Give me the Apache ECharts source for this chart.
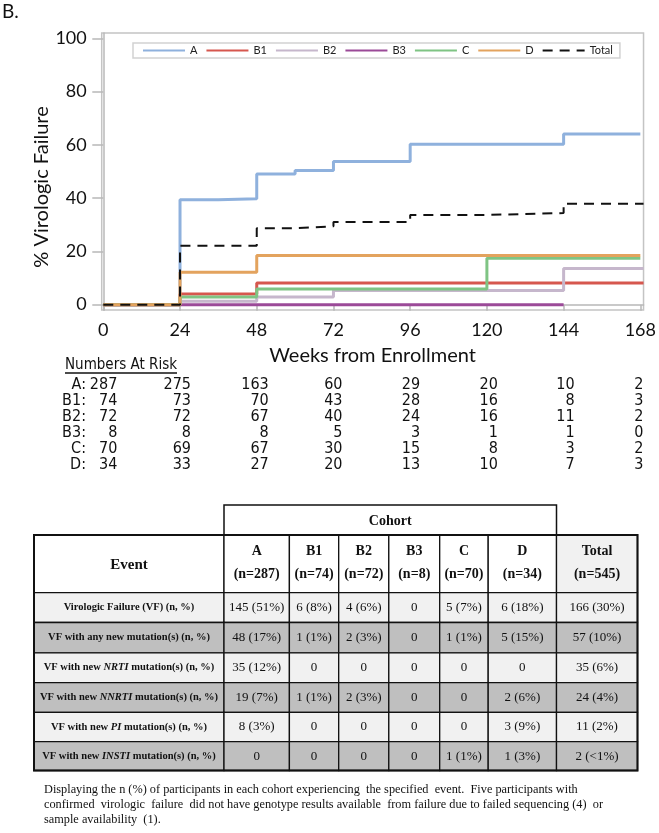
<!DOCTYPE html>
<html><head><meta charset="utf-8">
<script src="https://cdn.jsdelivr.net/npm/echarts@6/dist/echarts.min.js"></script>
<style>html,body{margin:0;padding:0;background:#fff}#c{width:659px;height:833px}</style>
</head><body><div id="c"></div>
<script>
// ---- Curve data (weeks, % virologic failure) ----
const seriesNames = ['A','B1','B2','B3','C','D','Total'];
const weeksA = [0,24,36,48,60,72,96,144,168];
const vfA    = [0,39.4,39.8,49.1,50.4,53.8,60.2,64.1,64.1];
const weeksB1 = [0,24,48,169];
const vfB1    = [0,4.0,8.1,8.1];
const weeksB2 = [0,24,48,72,144,169];
const vfB2    = [0,1.3,2.9,5.3,13.6,13.6];
const weeksB3 = [0,144];
const vfB3    = [0,0];
const weeksC = [0,24,48,120,168];
const vfC    = [0,2.9,5.9,17.4,17.4];
const weeksD = [0,24,48,168];
const vfD    = [0,12.2,18.5,18.5];
const weeksTotal = [0,24,48,60,72,96,120,144,169];
const vfTotal    = [0,22.1,28.7,29.4,31.0,33.7,34.4,37.9,37.9];
const xTicks = [0,24,48,72,96,120,144,168];
const yTicks = [0,20,40,60,80,100];

// ---- Numbers at risk ----
const riskWeeks = [0,24,48,72,96,120,144,168];
const riskLabels = ['A:','B1:','B2:','B3:','C:','D:'];
const riskA  = [287,275,163,60,29,20,10,2];
const riskB1 = [74,73,70,43,28,16,8,3];
const riskB2 = [72,72,67,40,24,16,11,2];
const riskB3 = [8,8,8,5,3,1,1,0];
const riskC  = [70,69,67,30,15,8,3,2];
const riskD  = [34,33,27,20,13,10,7,3];

// ---- Table ----
const tableCohorts = ['A','B1','B2','B3','C','D','Total'];
const tableN = ['(n=287)','(n=74)','(n=72)','(n=8)','(n=70)','(n=34)','(n=545)'];
const eventLabels = [
  '{b|Virologic Failure (VF) (n, %)}',
  '{b|VF with any new mutation(s) (n, %)}',
  '{b|VF with new }{bi|NRTI}{b| mutation(s) (n, %)}',
  '{b|VF with new }{bi|NNRTI}{b| mutation(s) (n, %)}',
  '{b|VF with new }{bi|PI}{b| mutation(s) (n, %)}',
  '{b|VF with new }{bi|INSTI}{b| mutation(s) (n, %)}'
];
const rowVF    = ['145 (51%)','6 (8%)','4 (6%)','0','5 (7%)','6 (18%)','166 (30%)'];
const rowAny   = ['48 (17%)','1 (1%)','2 (3%)','0','1 (1%)','5 (15%)','57 (10%)'];
const rowNRTI  = ['35 (12%)','0','0','0','0','0','35 (6%)'];
const rowNNRTI = ['19 (7%)','1 (1%)','2 (3%)','0','0','2 (6%)','24 (4%)'];
const rowPI    = ['8 (3%)','0','0','0','0','3 (9%)','11 (2%)'];
const rowINSTI = ['0','0','0','0','1 (1%)','1 (3%)','2 (<1%)'];
const footnote = [
  'Displaying the n (%) of participants in each cohort experiencing  the specified  event.  Five participants with',
  'confirmed  virologic  failure  did not have genotype results available  from failure due to failed sequencing (4)  or',
  'sample availability  (1).'
];

// ---- Styles ----
const colors = ['#8fb1dd','#d6574e','#c6b7cc','#9b4a98','#7fc484','#e3a35e','#111111'];
const AXF = 'Lato, "Open Sans", sans-serif';
const NARROW = '"Liberation Sans Narrow","DejaVu Sans Condensed",sans-serif';
const SERIF = '"Liberation Serif","DejaVu Serif",serif';

function zip(w, v) { return w.map((x, i) => [x, v[i]]); }
const curveData = [zip(weeksA,vfA), zip(weeksB1,vfB1), zip(weeksB2,vfB2), zip(weeksB3,vfB3),
                   zip(weeksC,vfC), zip(weeksD,vfD), zip(weeksTotal,vfTotal)];

const chart = echarts.init(document.getElementById('c'), null, {renderer: 'canvas'});

const option = {
  animation: false,
  backgroundColor: '#fff',
  grid: { left: 101.7, right: 14, top: 33, bottom: 523, show: true, borderColor: '#c4c4c4', borderWidth: 1.5 },
  legend: {
    data: seriesNames,
    left: 133, top: 43,
    itemWidth: 42, itemHeight: 11, itemGap: 8,
    padding: [2, 7, 2, 9],
    borderColor: '#d2d2d2', borderWidth: 1.5,
    itemStyle: { opacity: 0 },
    textStyle: { fontFamily: AXF, fontSize: 11, color: '#222' }
  },
  xAxis: {
    type: 'value', min: -0.5, max: 169,
    name: 'Weeks from Enrollment', nameLocation: 'middle', nameGap: 36,
    nameTextStyle: { fontFamily: AXF, fontSize: 20, color: '#111' },
    axisLine: { show: true, lineStyle: { color: '#b8b8b8', width: 1.5 } },
    axisTick: { show: true, length: 6, customValues: xTicks, lineStyle: { color: '#b8b8b8', width: 1.5 } },
    axisLabel: { customValues: xTicks, margin: 11, fontFamily: AXF, fontSize: 18, color: '#111' },
    splitLine: { show: false }
  },
  yAxis: {
    type: 'value', min: -2, max: 102,
    axisLine: { show: true, lineStyle: { color: '#b8b8b8', width: 1.5 } },
    axisTick: { show: true, length: 11, customValues: yTicks, lineStyle: { color: '#b8b8b8', width: 1.5 } },
    axisLabel: { customValues: yTicks, margin: 15, fontFamily: AXF, fontSize: 18, color: '#111' },
    splitLine: { show: false }
  },
  series: seriesNames.map((n, i) => ({
    name: n, type: 'line', step: 'end', symbol: 'none', showSymbol: false,
    data: curveData[i],
    color: colors[i],
    lineStyle: n === 'Total' ? { color: colors[i], width: 2, type: [10, 7] } : { color: colors[i], width: 3 },
    emphasis: { disabled: true }
  }))
};
chart.setOption(option);

// ---- graphics: titles, numbers at risk, table, footnote ----
const g = [];
g.push({ type: 'text', x: 2, y: 12, style: { text: 'B.', font: '19px ' + AXF, fill: '#111', textVerticalAlign: 'middle' } });
g.push({ type: 'text', x: 42, y: 187, rotation: Math.PI / 2,
  style: { text: '% Virologic Failure', font: '20px ' + AXF, fill: '#111', textAlign: 'center', textVerticalAlign: 'middle' } });

// numbers at risk
const NAR_FONT = '15px ' + NARROW;
const mctx = document.createElement('canvas').getContext('2d');
mctx.font = NAR_FONT;
const narTitle = 'Numbers At Risk';
const narW = mctx.measureText(narTitle).width;
g.push({ type: 'text', x: 65, y: 365, style: { text: narTitle, font: NAR_FONT, fill: '#111', textVerticalAlign: 'middle' } });
g.push({ type: 'line', shape: { x1: 65, y1: 373, x2: 65 + narW, y2: 373 }, style: { stroke: '#111', lineWidth: 1.3 } });
const riskRows = [riskA, riskB1, riskB2, riskB3, riskC, riskD];
const rowY = [385, 401, 417, 433, 449, 465];
const colOffset = [14, 11, 12, 9, 10, 11, 11, 3];
riskRows.forEach((row, r) => {
  g.push({ type: 'text', x: 86, y: rowY[r], style: { text: riskLabels[r], font: '16px ' + NARROW, fill: '#111', textAlign: 'right', textVerticalAlign: 'middle' } });
  row.forEach((v, c) => {
    const px = chart.convertToPixel({ xAxisIndex: 0 }, riskWeeks[c]) + colOffset[c];
    g.push({ type: 'text', x: px, y: rowY[r], style: { text: String(v), font: '16px ' + NARROW, fill: '#111', textAlign: 'right', textVerticalAlign: 'middle' } });
  });
});

// table
const colEdges = [34, 224, 289.4, 338.7, 388.8, 439.7, 488.2, 556.5, 637.5];
const rowEdges = [535, 592.7, 622.5, 652.8, 682.6, 712.3, 741.7, 770.5];
const bodyRows = [rowVF, rowAny, rowNRTI, rowNNRTI, rowPI, rowINSTI];
const LIGHT = '#f1f1f1', DARK = '#bfbfbf';
g.push({ type: 'rect', shape: { x: colEdges[1], y: 505, width: colEdges[7] - colEdges[1], height: rowEdges[0] - 505 },
  style: { fill: '#fff', stroke: '#111', lineWidth: 1.5 } });
g.push({ type: 'text', x: (colEdges[1] + colEdges[7]) / 2, y: 521, style: { text: 'Cohort', font: 'bold 14px ' + SERIF, fill: '#111', textAlign: 'center', textVerticalAlign: 'middle' } });
for (let r = 0; r < rowEdges.length - 1; r++) {
  for (let c = 0; c < colEdges.length - 1; c++) {
    let fill;
    if (r === 0) fill = (c === 7) ? LIGHT : '#fff';
    else fill = (r % 2 === 1) ? LIGHT : DARK;
    g.push({ type: 'rect', shape: { x: colEdges[c], y: rowEdges[r], width: colEdges[c + 1] - colEdges[c], height: rowEdges[r + 1] - rowEdges[r] },
      style: { fill: fill, stroke: '#111', lineWidth: 1.3 } });
  }
}
g.push({ type: 'rect', shape: { x: colEdges[0], y: rowEdges[0], width: colEdges[8] - colEdges[0], height: rowEdges[7] - rowEdges[0] },
  style: { fill: 'none', stroke: '#111', lineWidth: 2 } });
const hc = (rowEdges[0] + rowEdges[1]) / 2;
g.push({ type: 'text', x: (colEdges[0] + colEdges[1]) / 2, y: hc + 1, style: { text: 'Event', font: 'bold 15px ' + SERIF, fill: '#111', textAlign: 'center', textVerticalAlign: 'middle' } });
tableCohorts.forEach((nm, i) => {
  const cx = (colEdges[i + 1] + colEdges[i + 2]) / 2;
  g.push({ type: 'text', x: cx, y: hc - 12, style: { text: nm, font: 'bold 14px ' + SERIF, fill: '#111', textAlign: 'center', textVerticalAlign: 'middle' } });
  g.push({ type: 'text', x: cx, y: hc + 11, style: { text: tableN[i], font: 'bold 14px ' + SERIF, fill: '#111', textAlign: 'center', textVerticalAlign: 'middle' } });
});
bodyRows.forEach((row, r) => {
  const cy = (rowEdges[r + 1] + rowEdges[r + 2]) / 2;
  g.push({ type: 'text', x: (colEdges[0] + colEdges[1]) / 2, y: cy,
    style: { text: eventLabels[r], fill: '#111', textAlign: 'center', textVerticalAlign: 'middle',
      rich: { b: { fontFamily: SERIF, fontWeight: 'bold', fontSize: 10.5, fill: '#111' },
              bi: { fontFamily: SERIF, fontWeight: 'bold', fontStyle: 'italic', fontSize: 10.5, fill: '#111' } } } });
  row.forEach((v, c) => {
    const cx = (colEdges[c + 1] + colEdges[c + 2]) / 2;
    g.push({ type: 'text', x: cx, y: cy, style: { text: v, font: '13px ' + SERIF, fill: '#111', textAlign: 'center', textVerticalAlign: 'middle' } });
  });
});
footnote.forEach((line, i) => {
  g.push({ type: 'text', x: 44, y: 790 + i * 15, style: { text: line, font: '12.3px ' + SERIF, fill: '#111', textVerticalAlign: 'middle' } });
});

chart.setOption({ graphic: { elements: g } });
</script></body></html>
